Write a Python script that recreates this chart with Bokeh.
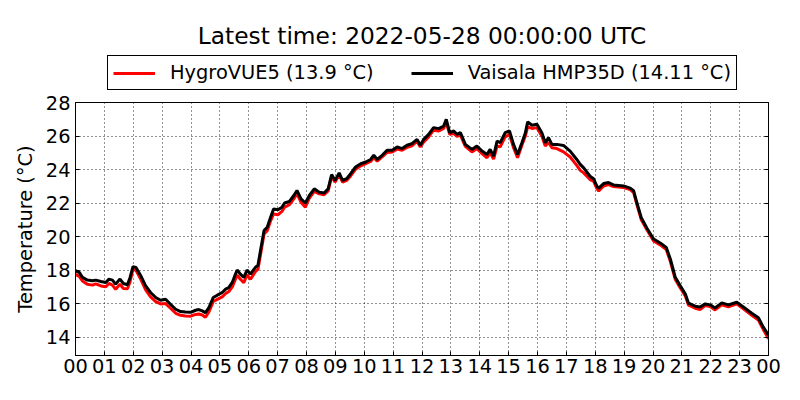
from bokeh.plotting import figure
from bokeh.layouts import column
from bokeh.models import Legend, LegendItem, LinearAxis, FixedTicker, Range1d, Label
from bokeh.embed import file_html
from bokeh.resources import INLINE

# time of day in hours (2022-05-27 00:00 .. 2022-05-28 00:00 UTC)
hours = [0.00, 0.13, 0.24, 0.41, 0.59, 0.70, 0.88, 1.05, 1.16, 1.28, 1.39, 1.54, 1.66, 1.80, 1.89,
         1.99, 2.09, 2.26, 2.43, 2.60, 2.78, 2.95, 3.12, 3.29, 3.47, 3.64, 3.81, 3.99, 4.16, 4.27,
         4.39, 4.50, 4.62, 4.77, 4.91, 5.08, 5.20, 5.31, 5.43, 5.54, 5.60, 5.71, 5.83, 5.94, 6.06,
         6.23, 6.32, 6.41, 6.53, 6.64, 6.76, 6.86, 7.01, 7.15, 7.24, 7.41, 7.56, 7.67, 7.81, 7.96,
         8.10, 8.27, 8.44, 8.61, 8.75, 8.87, 8.99, 9.13, 9.25, 9.39, 9.53, 9.70, 9.88, 10.05, 10.22,
         10.33, 10.45, 10.62, 10.79, 10.97, 11.14, 11.31, 11.48, 11.65, 11.83, 11.94, 12.06, 12.23,
         12.40, 12.58, 12.75, 12.84, 12.96, 13.10, 13.21, 13.33, 13.50, 13.73, 13.90, 14.08, 14.25,
         14.36, 14.48, 14.60, 14.71, 14.88, 15.03, 15.17, 15.31, 15.46, 15.58, 15.66, 15.81, 15.98,
         16.15, 16.27, 16.38, 16.50, 16.67, 16.90, 17.13, 17.36, 17.48, 17.60, 17.82, 17.94, 18.06,
         18.12, 18.29, 18.46, 18.63, 18.98, 19.21, 19.33, 19.44, 19.59, 19.79, 20.02, 20.25, 20.46,
         20.60, 20.77, 20.94, 21.12, 21.23, 21.46, 21.63, 21.81, 21.98, 22.15, 22.38, 22.61, 22.90,
         23.13, 23.42, 23.65, 23.82, 24.00]

vaisala = [17.96, 17.86, 17.56, 17.40, 17.36, 17.40, 17.32, 17.26, 17.46, 17.40, 17.16, 17.46, 17.20, 17.12, 17.56,
           18.20, 18.16, 17.66, 17.06, 16.66, 16.36, 16.20, 16.26, 15.96, 15.66, 15.52, 15.50, 15.48, 15.60, 15.64,
           15.56, 15.46, 15.76, 16.36, 16.50, 16.66, 16.86, 16.96, 17.26, 17.76, 18.00, 17.76, 17.56, 18.00, 17.76,
           18.16, 18.30, 19.20, 20.36, 20.56, 21.16, 21.65, 21.60, 21.75, 22.00, 22.10, 22.45, 22.75, 22.25, 22.00,
           22.45, 22.85, 22.65, 22.60, 22.85, 23.70, 23.35, 23.80, 23.35, 23.45, 23.75, 24.15, 24.35, 24.45, 24.60,
           24.85, 24.60, 24.85, 25.15, 25.15, 25.35, 25.25, 25.45, 25.55, 25.80, 25.45, 25.80, 26.10,
           26.50, 26.44, 26.60, 27.00, 26.20, 26.30, 26.10, 26.20, 25.50, 25.20, 25.40, 25.10, 24.90,
           25.20, 24.80, 25.70, 25.60, 26.20, 26.30, 25.50, 24.90, 25.60, 26.20, 26.84, 26.64, 26.70,
           26.20, 25.60, 25.90, 25.50, 25.50, 25.44, 25.10, 24.60, 24.31, 24.10, 23.60, 23.45, 23.00,
           22.89, 23.16, 23.22, 23.08, 23.02, 22.89, 22.73, 22.03, 21.14, 20.50, 19.85, 19.61, 19.35,
           18.66, 17.57, 17.07, 16.57, 16.02, 15.84, 15.79, 15.98, 15.92, 15.74, 16.04, 15.92, 16.08,
           15.79, 15.42, 15.15, 14.59, 14.11]

hygrovue = [17.75, 17.62, 17.35, 17.15, 17.10, 17.18, 17.05, 17.00, 17.20, 17.10, 16.85, 17.15, 16.90, 16.88, 17.30,
            18.05, 18.00, 17.45, 16.82, 16.40, 16.12, 15.98, 16.00, 15.72, 15.42, 15.30, 15.26, 15.25, 15.35, 15.38,
            15.32, 15.18, 15.50, 16.12, 16.25, 16.40, 16.60, 16.72, 17.00, 17.45, 17.70, 17.45, 17.25, 17.72, 17.45,
            17.90, 18.05, 18.95, 20.15, 20.35, 20.95, 21.35, 21.30, 21.50, 21.75, 21.90, 22.25, 22.55, 22.05, 21.75,
            22.30, 22.70, 22.55, 22.50, 22.72, 23.58, 23.25, 23.68, 23.25, 23.35, 23.62, 24.02, 24.22, 24.35, 24.48,
            24.72, 24.50, 24.75, 25.02, 25.05, 25.22, 25.15, 25.32, 25.42, 25.68, 25.35, 25.65, 25.95,
            26.35, 26.30, 26.45, 26.80, 26.10, 26.15, 25.98, 26.05, 25.38, 25.05, 25.25, 24.95, 24.70,
            25.00, 24.62, 25.40, 25.35, 25.95, 26.10, 25.30, 24.70, 25.45, 26.00, 26.55, 26.45, 26.50,
            26.00, 25.40, 25.62, 25.30, 25.25, 25.05, 24.75, 24.25, 23.95, 23.80, 23.40, 23.30, 22.85,
            22.72, 23.02, 23.10, 22.98, 22.92, 22.80, 22.62, 21.92, 21.02, 20.40, 19.74, 19.50, 19.22,
            18.52, 17.45, 16.95, 16.45, 15.90, 15.72, 15.65, 15.88, 15.82, 15.62, 15.92, 15.80, 15.98,
            15.68, 15.30, 15.02, 14.45, 13.90]

hour_ticks = list(range(0, 25))
hour_labels = ["%02d" % (h % 24) for h in hour_ticks]
temp_ticks = [14, 16, 18, 20, 22, 24, 26, 28]

title_text = "Latest time: 2022-05-28 00:00:00 UTC"
label_hygro = "HygroVUE5 (13.9 °C)"
label_vais = "Vaisala HMP35D (14.11 °C)"

FONT = "DejaVu Sans"
FS = "19.4px"
LW = 3
LEFT, RIGHT = 75, 32

# ---- header (title + legend); its frame is aligned with the plot frame below ----
TOP_H = 92
top = figure(width=800, height=TOP_H, output_backend="svg", toolbar_location=None, title=None,
             x_range=Range1d(LEFT, 800 - RIGHT), y_range=Range1d(TOP_H, 0),
             x_axis_type=None, y_axis_type=None,
             min_border_left=LEFT, min_border_right=RIGHT, min_border_top=0, min_border_bottom=0,
             outline_line_color=None, background_fill_color="white", border_fill_color="white")
top.extra_y_ranges = {"offscreen": Range1d(1000, 1100)}
top.add_layout(Label(x=421.5, y=34.5, text=title_text, text_align="center",
                     text_baseline="alphabetic", text_font=FONT, text_font_size="23.3px",
                     text_color="black"))
h_red = top.line(hours, hygrovue, line_color="red", line_width=LW, y_range_name="offscreen")
h_blk = top.line(hours, vaisala, line_color="black", line_width=LW, y_range_name="offscreen")
legend = Legend(items=[LegendItem(label=label_hygro, renderers=[h_red]),
                       LegendItem(label=label_vais, renderers=[h_blk])],
                orientation="horizontal", location=(107 - LEFT, 2),
                label_text_font=FONT, label_text_font_size=FS, label_text_color="black",
                glyph_width=42, glyph_height=20, label_standoff=15,
                spacing=37, padding=5, margin=0,
                border_line_color="black", border_line_width=1, border_line_alpha=1,
                background_fill_color="white", background_fill_alpha=1)
top.add_layout(legend)

# ---- main plot ----
p = figure(width=800, height=400 - TOP_H, output_backend="svg", toolbar_location=None, title=None,
           x_range=Range1d(0, 24), y_range=Range1d(12.9, 28),
           min_border_left=LEFT, min_border_right=RIGHT, min_border_bottom=45, min_border_top=10,
           background_fill_color="white", border_fill_color="white")

p.line(hours, hygrovue, line_color="red", line_width=LW)
p.line(hours, vaisala, line_color="black", line_width=LW)

p.outline_line_color = "black"
p.outline_line_width = 1
p.outline_line_alpha = 1

xt = FixedTicker(ticks=hour_ticks)
yt = FixedTicker(ticks=temp_ticks)

for ax in (p.xaxis[0], p.yaxis[0]):
    ax.major_label_text_font = FONT
    ax.major_label_text_font_size = FS
    ax.major_label_text_color = "black"
    ax.major_tick_in = 4
    ax.major_tick_out = 0
    ax.minor_tick_in = 0
    ax.minor_tick_out = 0
    ax.axis_line_color = "black"
    ax.major_tick_line_color = "black"

p.xaxis.ticker = xt
p.xaxis.major_label_overrides = {t: l for t, l in zip(hour_ticks, hour_labels)}
p.xaxis.major_label_standoff = 3
p.yaxis.ticker = yt
p.yaxis.major_label_standoff = 5
p.yaxis.axis_label = "Temperature (°C)"
p.yaxis.axis_label_text_font = FONT
p.yaxis.axis_label_text_font_size = FS
p.yaxis.axis_label_text_font_style = "normal"
p.yaxis.axis_label_text_color = "black"
p.yaxis.axis_label_standoff = 6

rax = LinearAxis(ticker=yt, major_label_text_color=None, major_tick_in=4, major_tick_out=0,
                 minor_tick_in=0, minor_tick_out=0, axis_line_color="black", major_label_standoff=0)
p.add_layout(rax, "right")

p.xgrid.ticker = xt
p.ygrid.ticker = yt
for g in (p.xgrid[0], p.ygrid[0]):
    g.grid_line_color = "black"
    g.grid_line_width = 1
    g.grid_line_dash = "1 3"
    g.grid_line_alpha = 0.85

layout = column(top, p, spacing=0)
open("out.html", "w").write(file_html(layout, INLINE))
